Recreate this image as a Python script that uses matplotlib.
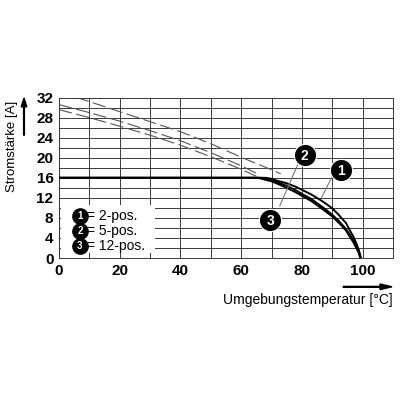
import matplotlib
matplotlib.use("Agg")
import matplotlib.pyplot as plt
import matplotlib.patches as mpatches
import numpy as np

plt.rcParams["font.family"] = ["Liberation Sans", "DejaVu Sans"]

# dashed (unreduced) curves
dash_x1 = [0, 10, 20, 30, 40, 50, 60, 70, 73]
dash_1 = [33.2, 31.2, 29.2, 27.2, 25.2, 22.8, 20.1, 17.6, 16.8]
dash_x2 = [0, 10, 20, 30, 40, 50, 60, 66]
dash_2 = [30.6, 29.0, 27.3, 25.4, 23.4, 21.0, 18.4, 16.6]
dash_x3 = [0, 10, 20, 30, 40, 50, 60, 65]
dash_3 = [29.6, 28.0, 26.3, 24.5, 22.5, 20.2, 17.7, 16.3]

# solid derating curves
sol_x1 = [0, 68, 70, 72, 75, 78, 80, 83, 86, 88, 90, 92, 93, 94.5, 95.7, 97, 98, 98.8, 99.4]
sol_1 = [16, 16, 15.8, 15.4, 14.9, 14.2, 13.6, 12.7, 11.6, 10.8, 9.9, 8.7, 8.0, 7.0, 5.6, 4.2, 2.8, 1.5, 0]
sol_x2 = [0, 66.5, 70, 72, 75, 78, 80, 83, 86, 88, 90, 92, 93, 94.5, 95.7, 97, 98, 98.8, 99.3]
sol_2 = [16, 16, 15.5, 15.1, 14.4, 13.5, 12.8, 11.8, 10.5, 9.6, 8.6, 7.5, 6.8, 5.8, 4.7, 3.5, 2.2, 1.1, 0]
sol_x3 = [0, 65.5, 70, 72, 75, 78, 80, 83, 86, 88, 90, 92, 93, 94.5, 95.7, 97, 98, 98.8, 99.2]
sol_3 = [16, 16, 15.3, 14.8, 14.0, 13.1, 12.4, 11.4, 10.1, 9.2, 8.3, 7.1, 6.5, 5.5, 4.3, 3.1, 1.9, 0.9, 0]

x_ticks = [0, 20, 40, 60, 80, 100]
y_ticks = [0, 4, 8, 12, 16, 20, 24, 28, 32]
legend_items = ["1", "2", "3"]
legend_text = ["= 2-pos.", "= 5-pos.", "= 12-pos."]

GRID = "#3a3a3a"

fig = plt.figure(figsize=(4, 4), dpi=100)
ax = fig.add_axes([0.1475, 0.355, 0.835, 0.401])
ax.set_xlim(0, 110)
ax.set_ylim(0, 32)

ax.set_xticks(np.arange(0, 111, 10), minor=True)
ax.set_yticks(np.arange(0, 33, 2), minor=True)
ax.set_xticks(x_ticks)
ax.set_yticks(y_ticks)
ax.grid(True, which="both", color=GRID, lw=0.7)
ax.set_axisbelow(True)
ax.tick_params(which="both", length=0, pad=4)
ax.set_xticklabels([str(v) for v in x_ticks], fontsize=11, fontweight="bold")
ax.set_yticklabels([str(v) for v in y_ticks], fontsize=11, fontweight="bold")
for s in ax.spines.values():
    s.set_color(GRID)
    s.set_linewidth(0.7)

dash_kw = dict(color="#555555", lw=0.8, dashes=(12, 4))
ax.plot(dash_x1, dash_1, **dash_kw)
ax.plot(dash_x2, dash_2, **dash_kw)
ax.plot(dash_x3, dash_3, **dash_kw)

for xs, ys in [(sol_x3, sol_3), (sol_x2, sol_2), (sol_x1, sol_1)]:
    ax.plot(xs, ys, color="black", lw=1.4, solid_joinstyle="round", zorder=4)

# legend box
ax.add_patch(mpatches.Rectangle((0.6, 0.9), 31.0, 9.6, facecolor="white",
                                edgecolor="none", zorder=5))
for i, (num, txt) in enumerate(zip(legend_items, legend_text)):
    yy = 8.4 - i * 3.0
    ax.plot(6.9, yy, "o", ms=11, color="black", zorder=6)
    ax.text(6.9, yy - 0.1, num, color="white", fontsize=7, fontweight="bold",
            ha="center", va="center", zorder=7)
    ax.text(9.3, yy, txt, fontsize=10, ha="left", va="center", zorder=7)

# callouts
ax.plot([78.6, 72.7], [18.6, 10.4], color="#777777", lw=0.8, zorder=5)
ax.plot([90.1, 86.4], [16.4, 12.0], color="#777777", lw=0.8, zorder=5)
for num, cx, cy in [("2", 80.9, 20.6), ("1", 93.0, 17.6), ("3", 69.6, 7.6)]:
    ax.plot(cx, cy, "o", ms=16, color="black", mec="white", mew=0.8, zorder=8)
    ax.text(cx, cy - 0.2, num, color="white", fontsize=10, fontweight="bold",
            ha="center", va="center", zorder=9)

# axis labels with arrows
fig.text(0.03, 0.635, "Stromstärke [A]", rotation=90, fontsize=9.5,
         ha="center", va="center")
fig.add_artist(mpatches.FancyArrow(
    0.06, 0.662, 0, 0.093, width=0.002, head_width=0.014, head_length=0.022,
    length_includes_head=True, color="black", transform=fig.transFigure))
fig.text(0.982, 0.25, "Umgebungstemperatur [°C]", fontsize=10,
         ha="right", va="center")
fig.add_artist(mpatches.FancyArrow(
    0.858, 0.283, 0.122, 0, width=0.002, head_width=0.014, head_length=0.03,
    length_includes_head=True, color="black", transform=fig.transFigure))

fig.savefig("out.png", dpi=100)
